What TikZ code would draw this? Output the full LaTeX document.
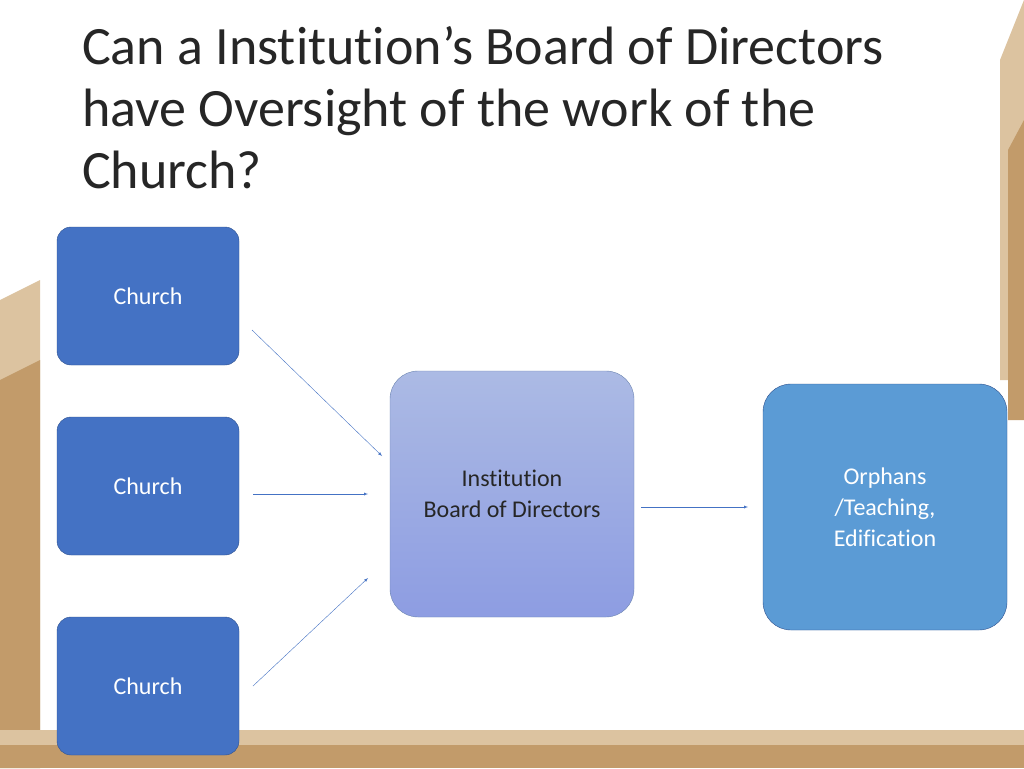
\documentclass[tikz,border=0pt]{standalone}
\usepackage{fontspec}
\setmainfont{Carlito}[RawFeature=-liga]
\usetikzlibrary{positioning}
\definecolor{churchblue}{HTML}{4472C4}
\definecolor{churchedge}{HTML}{2F528F}
\definecolor{instblue}{HTML}{9DAEDF}
\definecolor{orphblue}{HTML}{5B9BD5}
\definecolor{tan}{HTML}{C29B6A}
\definecolor{lighttan}{HTML}{DCC3A0}
\tikzset{
  church/.style={draw=churchedge, fill=churchblue, rounded corners=14pt, minimum width=182pt, minimum height=138pt, text=white, font=\fontsize{24}{30}\selectfont, align=center},
  board/.style={draw=churchedge!70, top color=instblue!85!white, bottom color=instblue!90!blue, rounded corners=28pt, minimum width=244pt, minimum height=246pt, text=black!85, font=\fontsize{24}{31}\selectfont, align=center},
  work/.style={draw=churchedge, fill=orphblue, rounded corners=28pt, minimum width=244pt, minimum height=246pt, text=white, font=\fontsize{24}{31}\selectfont, align=center},
  link/.style={draw=churchblue, -latex, thin}
}
\begin{document}
\begin{tikzpicture}[x=1pt,y=-1pt]
  \useasboundingbox (0,0) rectangle (1024,768);
  % background
  \fill[white] (0,0) rectangle (1024,768);
  \fill[lighttan] (0,300) -- (40,280) -- (40,768) -- (0,768) -- cycle;
  \fill[tan] (0,380) -- (40,360) -- (40,768) -- (0,768) -- cycle;
  \fill[lighttan] (0,730) rectangle (1024,768);
  \fill[tan] (0,745) rectangle (1024,768);
  \fill[lighttan] (1024,0) -- (1024,380) -- (1000,380) -- (1000,60) -- cycle;
  \fill[tan] (1024,120) -- (1024,420) -- (1008,420) -- (1008,150) -- cycle;
  % title
  \node[anchor=north west, align=left, inner sep=0pt, font=\fontsize{54}{62}\selectfont, text=black!85] (title) at (82,26)
    {Can a Institution’s Board of Directors\\have Oversight of the work of the\\Church?};
  % nodes
  \node[church] (c1) at (148,296) {Church};
  \node[church] (c2) at (148,486) {Church};
  \node[church] (c3) at (148,686) {Church};
  \node[board] (inst) at (512,494) {Institution\\Board of Directors};
  \node[work] (orph) at (885,507) {Orphans\\/Teaching,\\Edification};
  % connectors
  \coordinate (a1) at (252,330);
  \coordinate (a2) at (253,494);
  \coordinate (a3) at (253,686);
  \coordinate (b1) at (382,456);
  \coordinate (b2) at (368,494);
  \coordinate (b3) at (368,578);
  \draw[link] (a1) -- (b1);
  \draw[link] (a2) -- (b2);
  \draw[link] (a3) -- (b3);
  \coordinate (a4) at (641,507);
  \coordinate (b4) at (748,507);
  \draw[link] (a4) -- (b4);
\end{tikzpicture}
\end{document}
